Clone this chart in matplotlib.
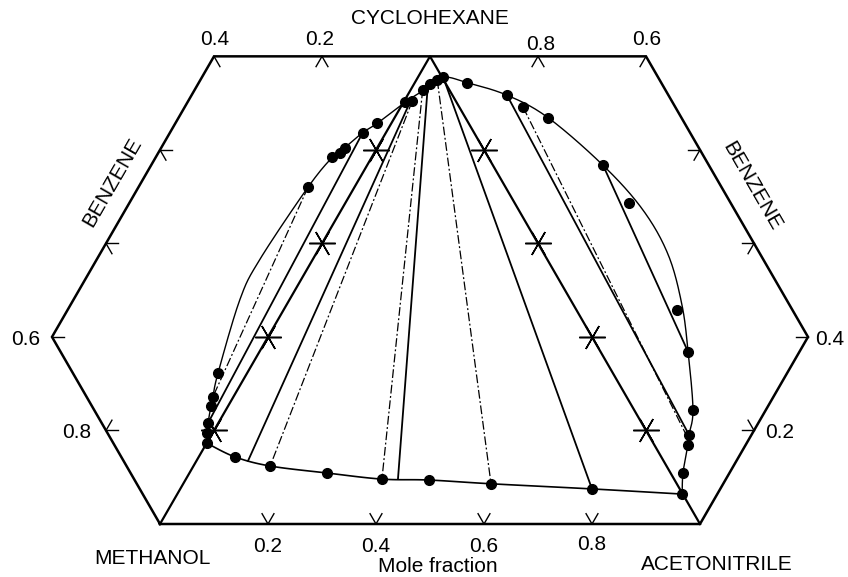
import numpy as np
import matplotlib
matplotlib.use('Agg')
import matplotlib.pyplot as plt

plt.rcParams['font.family'] = ['Liberation Sans', 'DejaVu Sans']

# compositions on the unfolded diagram:
#   a = acetonitrile mole fraction (bottom scale), c = cyclohexane mole fraction
#   a < 0 lies in the methanol/benzene face, a + c > 1 in the acetonitrile/benzene face
upper_curve_a = [0.000, -0.010, -0.019, -0.032, -0.038, -0.054, -0.092, -0.098, -0.086,
                 -0.073, -0.060, -0.043, -0.026, 0.003, 0.026, 0.047, 0.096, 0.184, 0.284,
                 0.437, 0.558, 0.653, 0.732, 0.794, 0.865, 0.884, 0.893, 0.914, 0.935]
upper_curve_c = [0.173, 0.195, 0.216, 0.253, 0.272, 0.323, 0.480, 0.565, 0.720,
                 0.784, 0.805, 0.837, 0.857, 0.902, 0.929, 0.955, 0.944, 0.917, 0.869,
                 0.767, 0.672, 0.576, 0.469, 0.368, 0.244, 0.191, 0.169, 0.109, 0.064]

lower_curve_a = [0.000, 0.067, 0.142, 0.255, 0.363, 0.451, 0.570, 0.7625, 0.935]
lower_curve_c = [0.173, 0.1435, 0.124, 0.109, 0.096, 0.094, 0.086, 0.075, 0.064]

# measured points
upper_pts_a = [0.000, -0.010, -0.019, -0.032, -0.038, -0.054, -0.086, -0.073, -0.064, -0.060,
               -0.043, -0.026, 0.003, 0.015, 0.022, 0.030, 0.039, 0.047, 0.096, 0.184, 0.227,
               0.284, 0.437, 0.525, 0.728, 0.794, 0.865, 0.884, 0.893, 0.914, 0.935]
upper_pts_c = [0.173, 0.195, 0.216, 0.253, 0.272, 0.323, 0.720, 0.784, 0.794, 0.805,
               0.837, 0.857, 0.902, 0.904, 0.929, 0.940, 0.949, 0.955, 0.944, 0.917, 0.891,
               0.869, 0.767, 0.687, 0.458, 0.368, 0.244, 0.191, 0.169, 0.109, 0.064]
lower_pts_a = [0.067, 0.142, 0.255, 0.363, 0.451, 0.570, 0.7625]
lower_pts_c = [0.1435, 0.124, 0.109, 0.096, 0.094, 0.086, 0.075]

# tie lines: (a1, c1, a2, c2)
ties_solid = [(-0.043, 0.837, -0.019, 0.216),
              (0.012, 0.901, 0.0955, 0.135),
              (0.027, 0.938, 0.3925, 0.0964),
              (0.047, 0.955, 0.7625, 0.075),
              (0.184, 0.917, 0.884, 0.191),
              (0.437, 0.767, 0.794, 0.368)]
ties_dashdot = [(-0.086, 0.720, -0.038, 0.272),
                (0.015, 0.904, 0.142, 0.124),
                (0.022, 0.929, 0.363, 0.096),
                (0.039, 0.949, 0.570, 0.086),
                (0.227, 0.891, 0.889, 0.180)]

# outline of the unfolded faces (benzene cut at 0.4)
hex_a = [0, 1, 1, 0.4, -0.4, -0.4, 0]
hex_c = [0, 0, 0.4, 1, 1, 0.4, 0]
grid = [0.2, 0.4, 0.6, 0.8]

H = np.sqrt(3) / 2


def to_xy(a, c):
    a = np.asarray(a, float)
    c = np.asarray(c, float)
    return a + c / 2, c * H


def smooth(a, c, n=14):
    x, y = to_xy(a, c)
    p = np.column_stack([x, y])
    p = np.vstack([p[0], p, p[-1]])
    out = []
    t = np.linspace(0, 1, n, endpoint=False)[:, None]
    for i in range(1, len(p) - 2):
        p0, p1, p2, p3 = p[i - 1], p[i], p[i + 1], p[i + 2]
        out.append(0.5 * (2 * p1 + (p2 - p0) * t + (2 * p0 - 5 * p1 + 4 * p2 - p3) * t ** 2
                          + (3 * p1 - p0 - 3 * p2 + p3) * t ** 3))
    out.append(p[-2][None])
    r = np.vstack(out)
    return r[:, 0], r[:, 1]


fig = plt.figure(figsize=(8.48, 5.77), dpi=100)
ax = fig.add_axes([0, 0, 1, 1])
ax.set_xlim(-160 / 540, 688 / 540)
ax.set_ylim(-53 / 540, 524 / 540)
ax.axis('off')

# frame
ax.plot(*to_xy(hex_a, hex_c), color='black', lw=1.8, solid_joinstyle='miter')
ax.plot(*to_xy([0, 0, 1], [0, 1, 0]), color='black', lw=1.6)

# ticks (chevrons)
L = 0.022


def chevron(a, c, angles):
    x, y = to_xy(a, c)
    for ang in angles:
        t = np.radians(ang)
        ax.plot([x, x + L * np.cos(t)], [y, y + L * np.sin(t)], color='black', lw=1.0)


for g in grid:
    chevron(g, 0, [60, 120])
for g in [-0.2, 0.2]:
    chevron(g, 1, [240, 300])
chevron(-0.4, 1, [300])
chevron(0.4, 1, [240])
chevron(-0.2, 0.2, [0, 60])
chevron(-0.4, 0.4, [0])
chevron(-0.4, 0.6, [0, 300])
chevron(-0.4, 0.8, [0, 300])
chevron(1, 0.2, [180, 120])
chevron(1, 0.4, [180])
chevron(0.8, 0.6, [180, 240])
chevron(0.6, 0.8, [180, 240])

# star ticks on the inner edges
gx, gy = to_xy(np.zeros(4), grid)
ax.plot(gx, gy, ls='none', marker=(6, 2, 30), ms=19, mew=1.1, color='black')
gx, gy = to_xy(1 - np.array(grid), grid)
ax.plot(gx, gy, ls='none', marker=(6, 2, 30), ms=19, mew=1.1, color='black')

# binodal curves
ax.plot(*smooth(upper_curve_a, upper_curve_c), color='black', lw=1.0)
ax.plot(*smooth(lower_curve_a, lower_curve_c), color='black', lw=1.2)

# tie lines
for a1, c1, a2, c2 in ties_solid:
    ax.plot(*to_xy([a1, a2], [c1, c2]), color='black', lw=1.3)
for a1, c1, a2, c2 in ties_dashdot:
    ax.plot(*to_xy([a1, a2], [c1, c2]), color='black', lw=0.9, ls=(0, (7, 2, 1.5, 2)))

# data points
ax.plot(*to_xy(upper_pts_a, upper_pts_c), 'o', color='black', ms=7, zorder=5)
ax.plot(*to_xy(lower_pts_a, lower_pts_c), 'o', color='black', ms=7, zorder=5)


def label(a, c, s, dx, dy, **kw):
    ax.annotate(s, to_xy(a, c), xytext=(dx, dy), textcoords='offset pixels',
                ha='center', va='center', fontsize=15, **kw)


for g in grid:
    label(g, 0, f'{g:.1f}', 0, -20 if g == 0.8 else -22)
label(-0.4, 1, '0.4', 1, 17)
label(-0.2, 1, '0.2', -2, 17)
label(0.2, 1, '0.8', 3, 12)
label(0.4, 1, '0.6', 1, 17)
label(-0.4, 0.4, '0.6', -26, -3)
label(-0.2, 0.2, '0.8', -29, -2)
label(1, 0.4, '0.4', 22, -3)
label(1, 0.2, '0.2', 26, -2)
label(0, 1, 'CYCLOHEXANE', 0, 38)
label(0, 0, 'METHANOL', -8, -35)
label(1, 0, 'ACETONITRILE', 17, -40)
label(0.5, 0, 'Mole fraction', 8, -42)
label(-0.4, 0.7, 'BENZENE', -21, 14, rotation=60)
label(0.7, 0.7, 'BENZENE', 25, 10, rotation=-60)

fig.savefig('out.png', dpi=100)
